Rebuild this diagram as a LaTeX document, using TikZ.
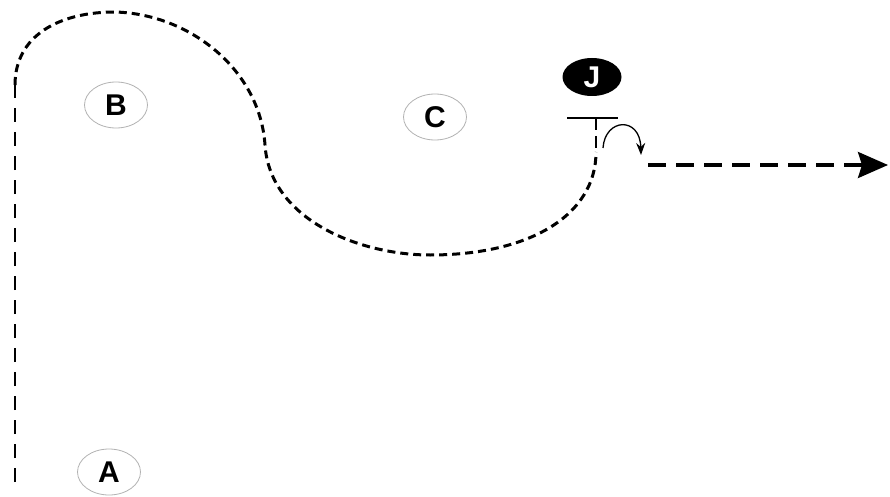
\documentclass[tikz,border=0pt]{standalone}
\usepackage{fontspec}
\setmainfont{Liberation Sans}
\usetikzlibrary{arrows.meta,shapes.geometric}
\begin{document}
\begin{tikzpicture}[x=1pt,y=-1pt,
  lbl/.style={ellipse,draw=gray!60,line width=0.8pt,fill=white,minimum width=63pt,minimum height=46pt,inner sep=0pt,font=\bfseries\fontsize{30}{32}\selectfont},
  jlbl/.style={ellipse,fill=black,text=white,minimum width=59pt,minimum height=38pt,inner sep=0pt,font=\bfseries\fontsize{30}{32}\selectfont},
  longdash/.style={line width=2.8pt,dash pattern=on 14pt off 10pt},
  shortdash/.style={line width=3pt,dash pattern=on 8pt off 5pt},
  arrdash/.style={line width=3.2pt,dash pattern=on 18pt off 10pt}]
\useasboundingbox (0,0) rectangle (890,497);
\node[lbl] (B) at (116,105) {B};
\node[lbl] (C) at (435,117) {C};
\node[lbl] (A) at (109,472) {A};
\node[jlbl] (J) at (592,77) {J};
\coordinate (bot) at (15,482);
\coordinate (top) at (15,85);
\coordinate (barL) at (567,118);
\coordinate (barR) at (618,118);
\coordinate (barM) at (596,118);
\coordinate (stubE) at (596,152);
\coordinate (tA) at (603,148);
\coordinate (tB) at (641,155);
\coordinate (rS) at (648,165);
\coordinate (rE) at (888,165);
\draw[longdash] (bot) -- (top);
\draw[shortdash] (top) .. controls (15,35) and (60,12) .. (115,12)
  .. controls (190,14) and (260,70) .. (265,145)
  .. controls (270,220) and (360,255) .. (430,255)
  .. controls (530,255) and (596,215) .. (stubE);
\draw[line width=2.8pt] (barL) -- (barR);
\draw[line width=2.8pt,dash pattern=on 12pt off 6pt] (barM) -- (stubE);
\draw[line width=1.3pt,-{Stealth[length=12pt,width=9pt]}] (tA) .. controls (605,118) and (640,116) .. (tB);
\draw[arrdash,-{Stealth[length=30pt,width=26pt,inset=4pt]}] (rS) -- (rE);
\end{tikzpicture}
\end{document}
